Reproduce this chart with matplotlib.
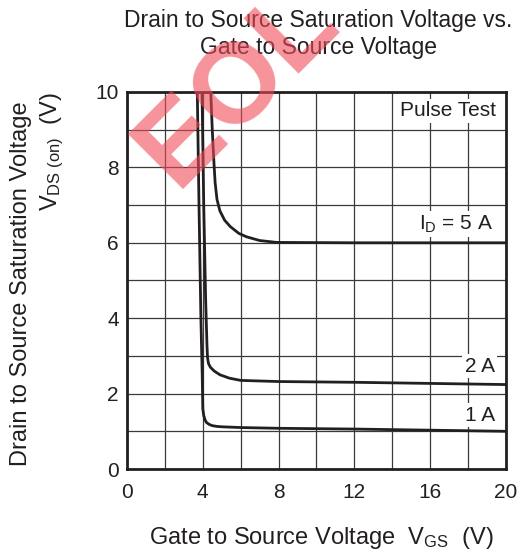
import numpy as np
import matplotlib
matplotlib.use('Agg')
from matplotlib import pyplot as plt

plt.rcParams['font.family'] = ['Liberation Sans', 'DejaVu Sans']
plt.rcParams['mathtext.fontset'] = 'custom'
plt.rcParams['mathtext.rm'] = 'Liberation Sans'
plt.rcParams['mathtext.it'] = 'Liberation Sans'

# curves (VGS in V, VDS(on) in V)
vgs_1a = [3.71, 3.8, 3.9, 3.97, 4.0, 4.05, 4.12, 4.2, 4.35, 4.5, 4.75, 5.0, 6.0, 8.0, 12.0, 16.0, 20.0]
vds_1a = [10.0, 7.0, 4.0, 2.5, 1.6, 1.42, 1.3, 1.23, 1.18, 1.15, 1.13, 1.12, 1.1, 1.08, 1.06, 1.03, 1.0]

vgs_2a = [3.96, 4.05, 4.15, 4.22, 4.25, 4.3, 4.4, 4.6, 4.9, 5.4, 6.0, 8.0, 12.0, 16.0, 20.0]
vds_2a = [10.0, 7.0, 4.5, 3.3, 2.95, 2.8, 2.7, 2.6, 2.5, 2.41, 2.35, 2.32, 2.3, 2.27, 2.24]

vgs_5a = [4.42, 4.5, 4.58, 4.65, 4.75, 4.9, 5.15, 5.45, 5.9, 6.3, 7.0, 7.9, 12.0, 20.0]
vds_5a = [10.0, 9.0, 8.2, 7.6, 7.15, 6.85, 6.6, 6.43, 6.25, 6.16, 6.06, 6.01, 6.0, 6.0]

x_ticks = [0, 4, 8, 12, 16, 20]
y_ticks = [0, 2, 4, 6, 8, 10]

line_col = '#231f20'

fig = plt.figure(figsize=(5.23, 5.54), dpi=100)
ax = fig.add_axes([0.2428, 0.1534, 0.7247, 0.6806])

ax.set_xlim(0, 20)
ax.set_ylim(0, 10)
ax.set_xticks(np.arange(0, 21, 2), minor=True)
ax.set_yticks(np.arange(0, 11, 1), minor=True)
ax.set_xticks(x_ticks)
ax.set_yticks(y_ticks)
ax.grid(True, which='both', color='#3a3a3a', linewidth=0.9)
ax.set_axisbelow(True)
ax.tick_params(which='both', length=0, labelsize=15, colors='#231f20')
ax.tick_params(axis='x', pad=10)
ax.tick_params(axis='y', pad=6)
for s in ax.spines.values():
    s.set_linewidth(2.0)
    s.set_color(line_col)

for xs, ys in [(vgs_1a, vds_1a), (vgs_2a, vds_2a), (vgs_5a, vds_5a)]:
    ax.plot(xs, ys, color=line_col, linewidth=2.0, solid_capstyle='butt', zorder=3)

box = dict(facecolor='white', edgecolor='none', pad=2.0)
ax.text(19.45, 9.5, 'Pulse Test', ha='right', va='center', fontsize=15, color='#231f20', bbox=box, zorder=4)
ax.text(19.35, 6.5, r'I$_{\mathrm{D}}$ = 5 A', ha='right', va='center', fontsize=15, color='#231f20', bbox=box, zorder=4)
ax.text(19.4, 2.73, '2 A', ha='right', va='center', fontsize=15, color='#231f20', bbox=box, zorder=4)
ax.text(19.4, 1.43, '1 A', ha='right', va='center', fontsize=15, color='#231f20', bbox=box, zorder=4)

fig.text(318 / 523, 1 - 34 / 554, 'Drain to Source Saturation Voltage vs.\nGate to Source Voltage',
         ha='center', va='center', fontsize=16.5, color='#231f20', linespacing=1.2)
fig.text(21 / 523, 1 - 284 / 554, 'Drain to Source Saturation Voltage', rotation=90,
         ha='center', va='center', fontsize=17, color='#231f20')
fig.text(52 / 523, 1 - 92 / 554, r'V$_{\mathrm{DS\ (on)}}$  (V)', rotation=90,
         ha='center', va='top', fontsize=17, color='#231f20')
fig.text(321 / 523, 1 - 538 / 554, r'Gate to Source Voltage  V$_{\mathrm{GS}}$  (V)',
         ha='center', va='center', fontsize=17, color='#231f20')

# EOL watermark
fig.text(238 / 523, 1 - 86 / 554, 'EOL', rotation=45, ha='center', va='center',
         fontsize=82, fontweight='bold', color='#f04a58', alpha=0.6, zorder=10)

fig.savefig('out.png', dpi=100)
